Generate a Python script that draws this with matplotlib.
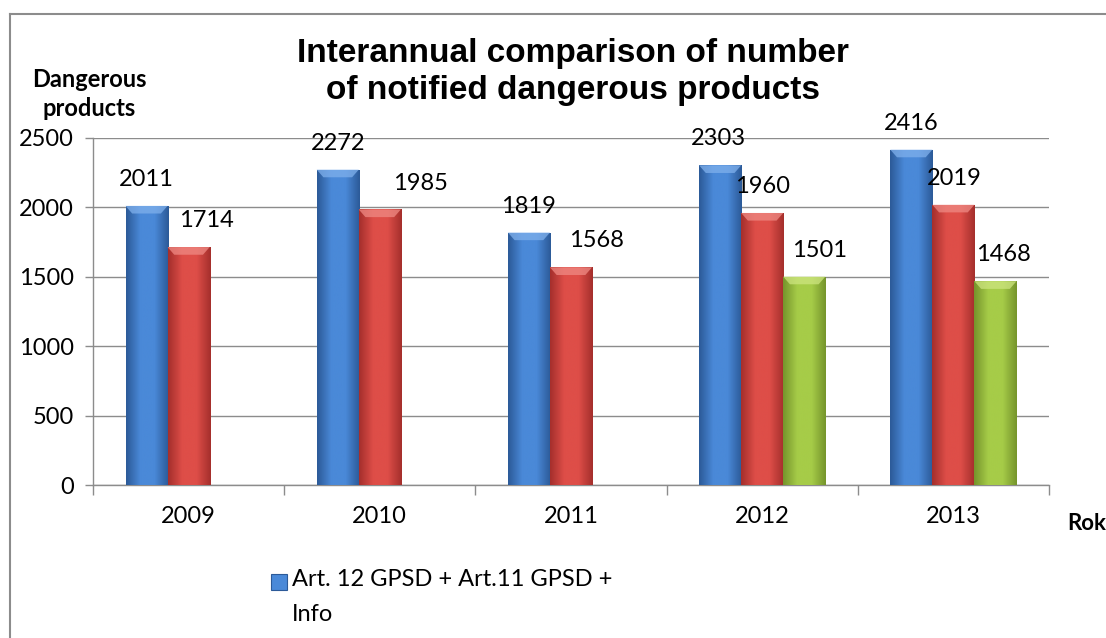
import numpy as np
import matplotlib
matplotlib.use('Agg')
import matplotlib.pyplot as plt
from matplotlib.patches import Polygon, Rectangle
from matplotlib.colors import LinearSegmentedColormap
from matplotlib.lines import Line2D

years = ['2009', '2010', '2011', '2012', '2013']
series_names = ['Art. 12 GPSD + Art.11 GPSD +\nInfo', 'Art. 12 GPSD', 'Art. 11 GPSD']
blue_vals = [2011, 2272, 1819, 2303, 2416]
red_vals = [1714, 1985, 1568, 1960, 2019]
green_vals = [np.nan, np.nan, np.nan, 1501, 1468]

# label x shifts in points (excel nudged some labels)
label_dx = [[0, 0, 0, -1, 0], [13, 29, 18, 0, 1], [0, 0, 0, 11, 6]]

plt.rcParams['font.family'] = ['Lato', 'DejaVu Sans']

fig = plt.figure(figsize=(11.06, 6.38), dpi=100)
ax = fig.add_axes([93 / 1106, 1 - 485 / 638, (1049 - 93) / 1106, (485 - 138) / 638])

# (edge dark, centre light, bevel) per series
palettes = [('#2c5a98', '#4a89d8', '#7fb0ec'),
            ('#a52f2c', '#de4e48', '#ef8a84'),
            ('#76952c', '#a6cc48', '#cde57f')]

width = 0.22
x = np.arange(len(years))
all_vals = [blue_vals, red_vals, green_vals]

ax.set_xlim(-0.5, 4.5)
ax.set_ylim(0, 2500)

for s, vals in enumerate(all_vals):
    dark, light, bev = palettes[s]
    cmap = LinearSegmentedColormap.from_list('g%d' % s, [dark, light, light, dark])
    grad = np.linspace(0, 1, 64).reshape(1, -1)
    vals = np.array(vals, dtype=float)
    ok = ~np.isnan(vals)
    bars = ax.bar(x[ok] + (s - 1) * width, vals[ok], width, color=light,
                  edgecolor=dark, linewidth=0.6, zorder=3,
                  label=series_names[s])
    for b, xi, v, dx in zip(bars, x[ok], vals[ok], np.array(label_dx[s])[ok]):
        x0, x1 = b.get_x(), b.get_x() + b.get_width()
        im = ax.imshow(grad, cmap=cmap, extent=[x0, x1, 0, v], aspect='auto',
                       zorder=3.5, interpolation='bicubic')
        im.set_clip_path(b)
        d = 0.035
        h = 55
        ax.add_patch(Polygon([[x0, v], [x1, v], [x1 - d, v - h], [x0 + d, v - h]],
                             closed=True, facecolor=bev, edgecolor='none',
                             alpha=0.75, zorder=4))
        ax.annotate('%d' % v, (b.get_x() + b.get_width() / 2, v),
                    xytext=(dx, 19), textcoords='offset points',
                    ha='center', va='center', fontsize=17, zorder=5)

ax.set_xlim(-0.5, 4.5)
ax.set_ylim(0, 2500)
ax.set_yticks(np.arange(0, 2501, 500))
ax.yaxis.grid(True, color='#8c8c8c', linewidth=1)
ax.set_axisbelow(True)
ax.set_xticks(np.arange(-0.5, 5, 1))
ax.set_xticklabels([])
ax.set_xticks(x, minor=True)
ax.set_xticklabels(years, minor=True)
ax.tick_params(axis='x', which='major', length=7, color='#8c8c8c', width=1)
ax.tick_params(axis='x', which='minor', length=0, pad=15, labelsize=17)
ax.tick_params(axis='y', length=6, color='#8c8c8c', width=1, labelsize=17, pad=8)
for sp in ['top', 'right']:
    ax.spines[sp].set_visible(False)
for sp in ['left', 'bottom']:
    ax.spines[sp].set_color('#8c8c8c')
    ax.spines[sp].set_linewidth(1)

fig.text(0.518, 1 - 72 / 638, 'Interannual comparison of number\nof notified dangerous products',
         ha='center', va='center', fontsize=24, fontweight='bold',
         family=['Liberation Sans'], linespacing=1.25)
fig.text(0.081, 1 - 94 / 638, 'Dangerous\nproducts', ha='center', va='center',
         fontsize=17, fontweight='bold', linespacing=1.3)
fig.text(1087 / 1106, 1 - 523 / 638, 'Rok', ha='center', va='center',
         fontsize=16, fontweight='bold')

# legend: only the first series is shown, marker sits on the first text line
fig.add_artist(Rectangle((271 / 1106, 1 - 590 / 638), 16 / 1106, 16 / 638,
                         facecolor=palettes[0][1], edgecolor=palettes[0][0],
                         linewidth=0.8, transform=fig.transFigure))
fig.text(292 / 1106, 1 - 569 / 638, series_names[0], ha='left', va='top',
         fontsize=17, linespacing=1.8)

# chart area border
fig.add_artist(Line2D([10 / 1106, 10 / 1106], [0, 1 - 14 / 638], color='#8c8c8c', lw=1.5))
fig.add_artist(Line2D([10 / 1106, 1], [1 - 14 / 638, 1 - 14 / 638], color='#8c8c8c', lw=1.5))

fig.savefig('out.png', dpi=100)
